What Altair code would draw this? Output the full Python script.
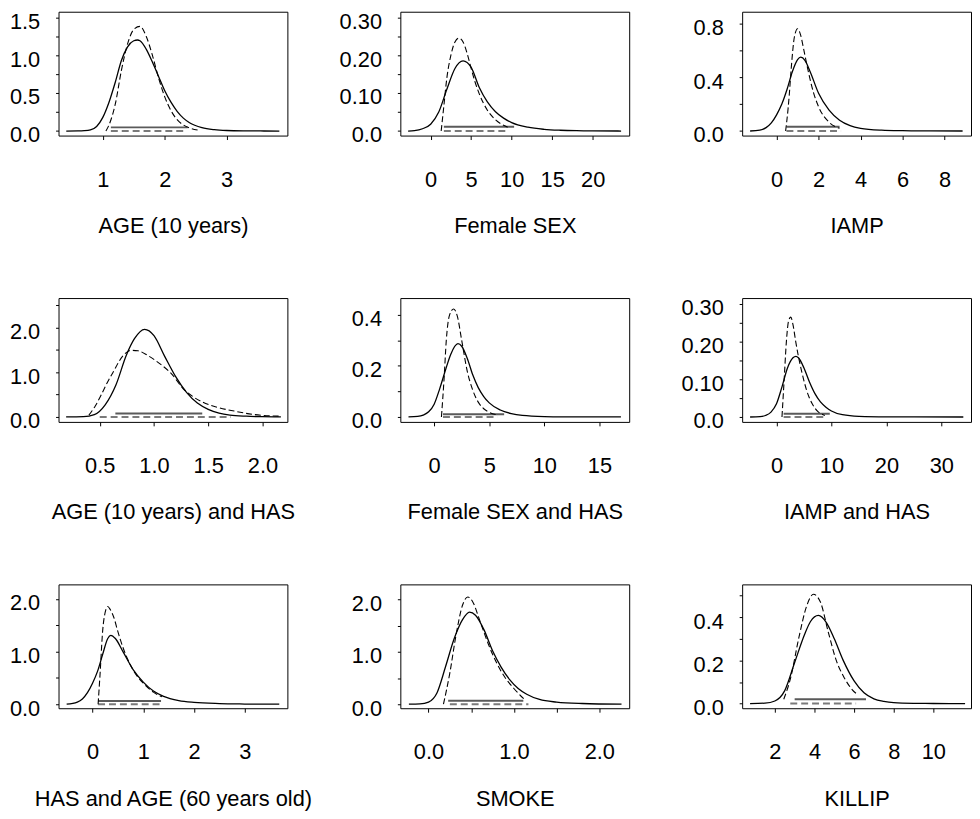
import altair as alt
import pandas as pd

# ---------------- data ----------------
titles = ["AGE (10 years)", "Female SEX", "IAMP",
          "AGE (10 years) and HAS", "Female SEX and HAS", "IAMP and HAS",
          "HAS and AGE (60 years old)", "SMOKE", "KILLIP"]

# Panel 1: AGE (10 years)
p1_sx = [0.41, 0.6, 0.7, 0.8, 0.9, 1.0, 1.1, 1.2, 1.3, 1.4, 1.5, 1.56, 1.6, 1.7, 1.8, 1.9, 2.0, 2.1, 2.2, 2.3, 2.4, 2.6, 2.8, 3.0, 3.3, 3.6, 3.85]
p1_sy = [0.0, 0.001, 0.004, 0.015, 0.06, 0.18, 0.38, 0.64, 0.93, 1.11, 1.19, 1.20, 1.19, 1.08, 0.91, 0.72, 0.53, 0.38, 0.26, 0.17, 0.11, 0.045, 0.018, 0.007, 0.002, 0.0005, 0.0]
p1_dx = [1.05, 1.1, 1.2, 1.3, 1.4, 1.5, 1.6, 1.7, 1.8, 1.9, 2.0, 2.1, 2.2, 2.3, 2.4, 2.55]
p1_dy = [0.0, 0.08, 0.35, 0.80, 1.15, 1.34, 1.38, 1.25, 1.00, 0.70, 0.45, 0.27, 0.15, 0.08, 0.04, 0.01]
p1_int_s = [1.13, 2.37, 0.048]
p1_int_d = [1.13, 2.32, 0.0]

# Panel 2: Female SEX
p2_sx = [-2.78, -2, -1, 0, 1, 2, 3, 4, 5, 6, 7, 8, 9, 10, 12, 14, 16, 18, 20, 23.5]
p2_sy = [0, 0.001, 0.006, 0.018, 0.05, 0.11, 0.165, 0.185, 0.168, 0.115, 0.077, 0.051, 0.034, 0.022, 0.01, 0.0045, 0.002, 0.0008, 0.0003, 0]
p2_dx = [1.3, 1.6, 2.0, 2.5, 3.0, 3.5, 4.0, 4.5, 5.0, 5.5, 6.0, 7.0, 8.0, 9.0, 9.5]
p2_dy = [0, 0.06, 0.14, 0.2, 0.235, 0.245, 0.235, 0.205, 0.165, 0.128, 0.098, 0.055, 0.03, 0.015, 0.01]
p2_int_s = [1.63, 10.3, 0.011]
p2_int_d = [1.63, 9.5, 0.0]

# Panel 3: IAMP
p3_sx = [-1.26, -0.8, -0.5, -0.25, 0, 0.25, 0.5, 0.75, 1.0, 1.15, 1.35, 1.6, 2.0, 2.5, 3.0, 3.5, 4.0, 5.0, 6.0, 7.0, 8.86]
p3_sy = [0, 0.006, 0.025, 0.06, 0.12, 0.2, 0.31, 0.44, 0.53, 0.548, 0.525, 0.44, 0.28, 0.155, 0.08, 0.04, 0.02, 0.006, 0.002, 0.0007, 0]
p3_dx = [0.43, 0.55, 0.61, 0.7, 0.85, 1.0, 1.15, 1.3, 1.5, 1.75, 2.0, 2.5, 3.0]
p3_dy = [0, 0.17, 0.28, 0.47, 0.70, 0.76, 0.71, 0.6, 0.45, 0.29, 0.18, 0.065, 0.02]
p3_int_s = [0.47, 3.0, 0.032]
p3_int_d = [0.47, 3.07, 0.0]

# Panel 4: AGE (10 years) and HAS
p4_sx = [0.19, 0.35, 0.45, 0.55, 0.65, 0.745, 0.82, 0.914, 1.0, 1.1, 1.2, 1.3, 1.4, 1.5, 1.6, 1.7, 1.85, 2.0, 2.17]
p4_sy = [0, 0.005, 0.05, 0.27, 0.72, 1.38, 1.75, 1.96, 1.82, 1.35, 0.9, 0.55, 0.31, 0.17, 0.085, 0.04, 0.015, 0.005, 0]
p4_dx = [0.4, 0.46, 0.515, 0.57, 0.623, 0.715, 0.79, 0.853, 0.945, 1.07, 1.16, 1.27, 1.35, 1.44, 1.59, 1.74, 1.93, 2.17]
p4_dy = [0.04, 0.25, 0.5, 0.77, 1.0, 1.37, 1.49, 1.48, 1.37, 1.16, 0.97, 0.63, 0.47, 0.34, 0.21, 0.13, 0.05, 0.015]
p4_int_s = [0.644, 1.445, 0.075]
p4_int_d = [0.5, 1.71, 0.0]

# Panel 5: Female SEX and HAS
p5_sx = [-2.33, -1.5, -1, -0.5, 0, 0.5, 1.0, 1.5, 2.16, 2.5, 3.0, 3.5, 4.0, 4.5, 5.0, 6.0, 7.0, 8.0, 10, 12, 14, 16.95]
p5_sy = [0, 0.002, 0.007, 0.02, 0.05, 0.11, 0.18, 0.245, 0.287, 0.277, 0.23, 0.165, 0.115, 0.08, 0.055, 0.027, 0.013, 0.006, 0.0015, 0.0004, 0.0001, 0]
p5_dx = [0.66, 0.9, 1.1, 1.4, 1.77, 2.1, 2.5, 3.0, 3.5, 4.0, 4.5, 5.0, 5.75]
p5_dy = [0, 0.15, 0.3, 0.4, 0.423, 0.395, 0.3, 0.18, 0.105, 0.058, 0.032, 0.018, 0.008]
p5_int_s = [0.8, 6.35, 0.0104]
p5_int_d = [0.8, 5.75, 0.0]

# Panel 6: IAMP and HAS
p6_sx = [-4.8, -3, -2, -1, 0, 1, 2, 3, 3.53, 4, 5, 6, 7, 8, 9, 10, 12, 15, 20, 25, 34]
p6_sy = [0, 0.001, 0.004, 0.013, 0.035, 0.08, 0.13, 0.157, 0.161, 0.157, 0.13, 0.093, 0.062, 0.04, 0.026, 0.016, 0.006, 0.0015, 0.0002, 0.00005, 0]
p6_dx = [1.0, 1.4, 1.8, 2.2, 2.6, 3.0, 3.5, 4.0, 4.6, 5.5, 6.5, 7.5, 8.8]
p6_dy = [0, 0.1, 0.2, 0.255, 0.265, 0.245, 0.2, 0.16, 0.12, 0.07, 0.035, 0.015, 0.004]
p6_int_s = [1.3, 9.7, 0.0087]
p6_int_d = [1.3, 9.0, 0.0]

# Panel 7: HAS and AGE (60 years old)
p7_sx = [-0.51, -0.3, -0.2, -0.1, 0.0, 0.1, 0.2, 0.3, 0.36, 0.45, 0.6, 0.8, 1.0, 1.2, 1.4, 1.7, 2.0, 2.5, 3.0, 3.68]
p7_sy = [0, 0.04, 0.1, 0.22, 0.4, 0.63, 0.95, 1.25, 1.31, 1.25, 1.0, 0.66, 0.42, 0.25, 0.15, 0.07, 0.035, 0.012, 0.004, 0]
p7_dx = [0.11, 0.15, 0.2, 0.25, 0.3, 0.35, 0.42, 0.5, 0.6, 0.7, 0.8, 1.0, 1.2, 1.37]
p7_dy = [0, 0.6, 1.4, 1.75, 1.86, 1.8, 1.65, 1.38, 1.08, 0.84, 0.65, 0.4, 0.23, 0.14]
p7_int_s = [0.11, 1.35, 0.063]
p7_int_d = [0.11, 1.37, 0.0]

# Panel 8: SMOKE
p8_sx = [-0.23, -0.1, 0.0, 0.1, 0.2, 0.3, 0.4, 0.48, 0.55, 0.65, 0.75, 0.85, 0.95, 1.05, 1.15, 1.3, 1.5, 1.8, 2.26]
p8_sy = [0, 0.005, 0.04, 0.22, 0.72, 1.25, 1.62, 1.76, 1.7, 1.42, 1.02, 0.71, 0.47, 0.3, 0.19, 0.09, 0.04, 0.013, 0]
p8_dx = [0.175, 0.25, 0.32, 0.4, 0.46, 0.52, 0.6, 0.7, 0.8, 0.9, 1.0, 1.13]
p8_dy = [0, 0.6, 1.3, 1.9, 2.05, 1.95, 1.6, 1.15, 0.78, 0.5, 0.3, 0.08]
p8_int_s = [0.23, 1.11, 0.064]
p8_int_d = [0.25, 1.17, 0.0]

# Panel 9: KILLIP
p9_sx = [0.75, 1.5, 2.0, 2.5, 3.0, 3.5, 3.8, 4.2, 4.6, 5.0, 5.45, 6.0, 6.5, 7.0, 7.5, 8.0, 9.0, 10, 11.6]
p9_sy = [0, 0.002, 0.012, 0.06, 0.19, 0.32, 0.38, 0.408, 0.375, 0.3, 0.2, 0.105, 0.05, 0.022, 0.01, 0.004, 0.001, 0.0003, 0]
p9_dx = [2.45, 2.8, 3.2, 3.6, 3.95, 4.3, 4.7, 5.1, 5.5, 5.9, 6.2]
p9_dy = [0.02, 0.12, 0.3, 0.45, 0.506, 0.47, 0.33, 0.2, 0.12, 0.065, 0.04]
p9_int_s = [3.0, 6.6, 0.02]
p9_int_d = [2.78, 6.1, 0.0]

# axis domains
x_domains = [[0.285, 3.98], [-3.74, 24.5], [-1.64, 9.26],
             [0.12, 2.23], [-3.07, 17.7], [-6.25, 35.4],
             [-0.67, 3.84], [-0.33, 2.35], [0.35, 11.9]]
y_domains = [[-0.06, 1.573], [-0.012, 0.3146], [-0.034, 0.886],
             [-0.112, 2.66], [-0.0195, 0.466], [-0.013, 0.3156],
             [-0.076, 2.28], [-0.077, 2.29], [-0.0216, 0.552]]

# tick values and tick labels ('' = unlabeled tick)
x_ticks = [[1, 2, 3], [0, 5, 10, 15, 20], [0, 2, 4, 6, 8],
           [0.5, 1.0, 1.5, 2.0], [0, 5, 10, 15], [0, 10, 20, 30],
           [0, 1, 2, 3], [0, 0.5, 1.0, 1.5, 2.0], [2, 4, 6, 8, 10]]
x_labels = [["1", "2", "3"], ["0", "5", "10", "15", "20"], ["0", "2", "4", "6", "8"],
            ["0.5", "1.0", "1.5", "2.0"], ["0", "5", "10", "15"], ["0", "10", "20", "30"],
            ["0", "1", "2", "3"], ["0.0", "", "1.0", "", "2.0"], ["2", "4", "6", "8", "10"]]
y_ticks = [[0, 0.25, 0.5, 0.75, 1.0, 1.25, 1.5],
           [0, 0.05, 0.1, 0.15, 0.2, 0.25, 0.3],
           [0, 0.2, 0.4, 0.6, 0.8],
           [0, 0.5, 1.0, 1.5, 2.0, 2.5],
           [0, 0.1, 0.2, 0.3, 0.4],
           [0, 0.05, 0.1, 0.15, 0.2, 0.25, 0.3],
           [0, 0.5, 1.0, 1.5, 2.0],
           [0, 0.5, 1.0, 1.5, 2.0],
           [0, 0.1, 0.2, 0.3, 0.4, 0.5]]
y_labels = [["0.0", "", "0.5", "", "1.0", "", "1.5"],
            ["0.0", "", "0.10", "", "0.20", "", "0.30"],
            ["0.0", "", "0.4", "", "0.8"],
            ["0.0", "", "1.0", "", "2.0", ""],
            ["0.0", "", "0.2", "", "0.4"],
            ["0.0", "", "0.10", "", "0.20", "", "0.30"],
            ["0.0", "", "1.0", "", "2.0"],
            ["0.0", "", "1.0", "", "2.0"],
            ["0.0", "", "0.2", "", "0.4", ""]]

solid_x = [p1_sx, p2_sx, p3_sx, p4_sx, p5_sx, p6_sx, p7_sx, p8_sx, p9_sx]
solid_y = [p1_sy, p2_sy, p3_sy, p4_sy, p5_sy, p6_sy, p7_sy, p8_sy, p9_sy]
dash_x = [p1_dx, p2_dx, p3_dx, p4_dx, p5_dx, p6_dx, p7_dx, p8_dx, p9_dx]
dash_y = [p1_dy, p2_dy, p3_dy, p4_dy, p5_dy, p6_dy, p7_dy, p8_dy, p9_dy]
int_solid = [p1_int_s, p2_int_s, p3_int_s, p4_int_s, p5_int_s, p6_int_s, p7_int_s, p8_int_s, p9_int_s]
int_dash = [p1_int_d, p2_int_d, p3_int_d, p4_int_d, p5_int_d, p6_int_d, p7_int_d, p8_int_d, p9_int_d]

FONT = "Liberation Sans"


def label_expr(ticks, labels):
    expr = "''"
    for t, l in reversed(list(zip(ticks, labels))):
        expr = f"abs(datum.value - ({t})) < 1e-9 ? '{l}' : " + expr
    return expr


def panel(i):
    xs = alt.Scale(domain=x_domains[i], nice=False, zero=False)
    ys = alt.Scale(domain=y_domains[i], nice=False, zero=False)
    xax = alt.Axis(values=x_ticks[i], labelExpr=label_expr(x_ticks[i], x_labels[i]),
                   title=titles[i], tickSize=4, labelPadding=30, titlePadding=26,
                   domain=False, grid=False, labelOverlap=False, labelFlush=False,
                   labelFont=FONT, labelFontSize=22, labelColor="black",
                   titleFont=FONT, titleFontSize=22, titleFontWeight="normal", titleColor="black",
                   tickColor="black", tickWidth=1)
    yax = alt.Axis(values=y_ticks[i], labelExpr=label_expr(y_ticks[i], y_labels[i]),
                   title=None, tickSize=3, labelPadding=16, labelOffset=4,
                   domain=False, grid=False, labelOverlap=False, labelFlush=False,
                   labelFont=FONT, labelFontSize=22, labelColor="black",
                   tickColor="black", tickWidth=1)
    X = lambda f: alt.X(f, type="quantitative", scale=xs, axis=xax)
    Y = lambda f: alt.Y(f, type="quantitative", scale=ys, axis=yax)

    ds = pd.DataFrame({"x": solid_x[i], "y": solid_y[i]})
    dd = pd.DataFrame({"x": dash_x[i], "y": dash_y[i]})
    dis = pd.DataFrame({"x": [int_solid[i][0]], "x2": [int_solid[i][1]], "y": [int_solid[i][2]]})
    did = pd.DataFrame({"x": [int_dash[i][0]], "x2": [int_dash[i][1]], "y": [int_dash[i][2]]})

    solid = alt.Chart(ds).mark_line(color="black", strokeWidth=1.3, interpolate="monotone").encode(
        x=X("x"), y=Y("y"), order="x:Q")
    dashed = alt.Chart(dd).mark_line(color="black", strokeWidth=1.1, strokeDash=[6, 3],
                                     interpolate="monotone").encode(x=X("x"), y=Y("y"), order="x:Q")
    isol = alt.Chart(dis).mark_rule(color="#5a5a5a", strokeWidth=2).encode(
        x=X("x"), x2="x2:Q", y=Y("y"))
    idsh = alt.Chart(did).mark_rule(color="#7a7a7a", strokeWidth=2, strokeDash=[7, 4]).encode(
        x=X("x"), x2="x2:Q", y=Y("y"))
    return alt.layer(isol, idsh, solid, dashed).properties(width=231, height=125)


chart = alt.concat(*[panel(i) for i in range(9)], columns=3,
                   spacing={"row": 164, "column": 114}, bounds="flush",
                   padding={"top": -2, "left": 0, "right": 0, "bottom": 0},
                   background="white").configure_view(
    stroke="black", strokeWidth=1
)

chart.save("out.html", embed_options={"renderer": "svg", "actions": False})
